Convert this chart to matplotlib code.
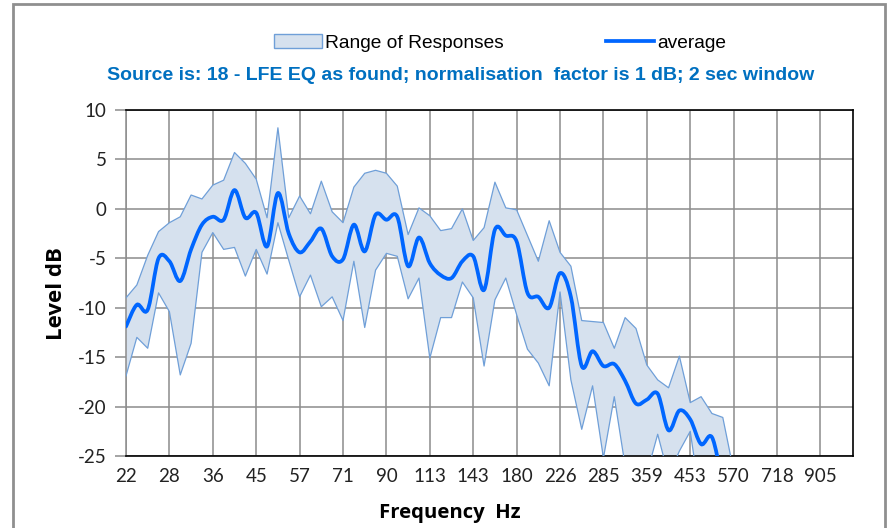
import numpy as np
import matplotlib.pyplot as plt
from matplotlib.path import Path
from matplotlib.patches import PathPatch, Patch, Rectangle
from matplotlib.lines import Line2D

plt.rcParams['axes.unicode_minus'] = False

# %% data
# -------

freq_labels = ['22', '28', '36', '45', '57', '71', '90', '113', '143', '180',
               '226', '285', '359', '453', '570', '718', '905']
n_bins = 68          # 1/12-octave bins, labelled every third of an octave

range_upper = [-9.0, -7.7, -4.7, -2.3, -1.4, -0.8, 1.4, 1.0, 2.4, 2.9,
               5.7, 4.6, 3.0, -0.9, 8.2, -0.9, 1.3, -0.5, 2.8, -0.3,
               -1.4, 2.2, 3.6, 3.9, 3.6, 2.3, -2.6, 0.1, -0.7, -2.2,
               -2.0, 0.0, -3.2, -1.9, 2.7, 0.1, -0.1, -2.7, -5.3, -1.2,
               -4.4, -5.8, -11.3, -11.4, -11.5, -14.1, -11.0, -12.1, -15.8, -17.3,
               -18.1, -14.9, -19.6, -19.0, -20.7, -21.1, -26.5]
range_lower = [-16.9, -13.0, -14.1, -8.5, -10.4, -16.8, -13.6, -4.4, -2.4, -4.1,
               -3.9, -6.8, -4.1, -6.6, -1.4, -5.2, -8.9, -6.7, -9.9, -8.9,
               -11.3, -5.3, -12.0, -6.2, -4.5, -4.8, -9.1, -7.0, -15.1, -11.0,
               -11.0, -7.4, -9.0, -15.9, -9.2, -7.0, -10.7, -14.2, -15.6, -17.9,
               -8.4, -17.3, -22.3, -17.9, -25.2, -19.0, -26.0, -28.5, -26.8, -22.8,
               -27.0, -24.5, -22.5, -30.0, -30.0, -30.0, -30.0]
average = [-11.9, -9.7, -10.2, -5.0, -5.3, -7.3, -4.1, -1.6, -0.8, -1.1,
           1.9, -0.9, -0.4, -3.8, 1.6, -2.5, -4.4, -3.3, -2.0, -4.8,
           -5.1, -1.6, -4.3, -0.6, -1.1, -0.8, -5.8, -2.9, -5.5, -6.7,
           -7.0, -5.3, -4.8, -8.2, -2.1, -2.7, -3.3, -8.5, -8.9, -10.0,
           -6.5, -8.9, -15.9, -14.4, -15.9, -15.7, -17.4, -19.7, -19.3, -18.7,
           -22.4, -20.4, -21.3, -23.8, -23.1, -27.5, -30.0]

fill_col = '#d6e1ee'
edge_col = '#6f9fd8'
avg_col = '#0066ff'
grid_col = '#8c8c8c'


def smooth_path(xs, ys):
    """Bezier path through the points, like a spreadsheet 'smoothed line'."""
    pts = np.column_stack([xs, ys])
    verts = [pts[0]]
    codes = [Path.MOVETO]
    n = len(pts)
    for i in range(n - 1):
        p0 = pts[i - 1] if i > 0 else pts[i]
        p1, p2 = pts[i], pts[i + 1]
        p3 = pts[i + 2] if i + 2 < n else pts[i + 1]
        verts += [p1 + (p2 - p0) / 6, p2 - (p3 - p1) / 6, p2]
        codes += [Path.CURVE4] * 3
    return Path(verts, codes)


# %% figure
# ---------

fig = plt.figure(figsize=(8.92, 5.28), dpi=100)
ax = fig.add_axes([126 / 892, 1 - 456 / 528, 727 / 892, 346 / 528])

# outer chart frame
fig.patches.append(Rectangle((13 / 892, -0.05), 872 / 892, 1.05 - 4 / 528,
                             transform=fig.transFigure, fill=False,
                             ec='#8f8f8f', lw=2))

x = np.arange(len(average))

ax.fill_between(x, range_lower, range_upper, facecolor=fill_col,
                edgecolor='none', zorder=2)
ax.plot(x, range_upper, color=edge_col, lw=0.9, zorder=3)
ax.plot(x, range_lower, color=edge_col, lw=0.9, zorder=3)
ax.add_patch(PathPatch(smooth_path(x, average), fill=False, ec=avg_col,
                       lw=2.7, capstyle='round', joinstyle='round', zorder=4))

# axes
ax.set_xlim(0, n_bins - 1)
ax.set_ylim(-25, 10)
ax.set_xticks(np.arange(0, 4 * len(freq_labels), 4))
ax.set_xticklabels(freq_labels)
ax.set_yticks(np.arange(-25, 11, 5))
ax.grid(True, color=grid_col, lw=1.1, zorder=1)
ax.set_axisbelow(True)

ax.tick_params(axis='x', length=0, pad=9, labelsize=13.5, labelcolor='#222222')
ax.tick_params(axis='y', length=8, width=1.1, color=grid_col, pad=6,
               labelsize=13.5, labelcolor='#222222')
for lab in ax.get_xticklabels() + ax.get_yticklabels():
    lab.set_fontfamily('Lato')

for side in ['top', 'right', 'bottom']:
    ax.spines[side].set_color('black')
    ax.spines[side].set_linewidth(1.2)
ax.spines['left'].set_color(grid_col)
ax.spines['left'].set_linewidth(1.1)

ax.set_xlabel('Frequency  Hz', fontsize=14.6, fontweight='bold',
              fontfamily='Open Sans')
ax.xaxis.set_label_coords((450 - 126) / 727, -0.137)
ax.set_ylabel('Level dB', fontsize=16, fontweight='bold',
              fontfamily='Open Sans')
ax.yaxis.set_label_coords(-0.081, 0.47)

# subtitle
fig.text(461 / 892, 1 - 76 / 528,
         'Source is: 18 - LFE EQ as found; normalisation  factor is 1 dB; 2 sec window',
         ha='center', va='center', color='#0070c0', fontsize=14,
         fontweight='bold', fontfamily='Liberation Sans')

# legend
handles = [Patch(facecolor=fill_col, edgecolor=edge_col, lw=1),
           Line2D([], [], color=avg_col, lw=2.7)]
fig.legend(handles, ['Range of Responses', 'average'], loc='center',
           bbox_to_anchor=(500 / 892, 1 - 43 / 528), ncol=2, frameon=False,
           prop={'family': 'Liberation Sans', 'size': 13.8},
           handlelength=2.5, handleheight=0.7, handletextpad=0.2,
           columnspacing=5.3)

plt.savefig('out.png', dpi=100)
